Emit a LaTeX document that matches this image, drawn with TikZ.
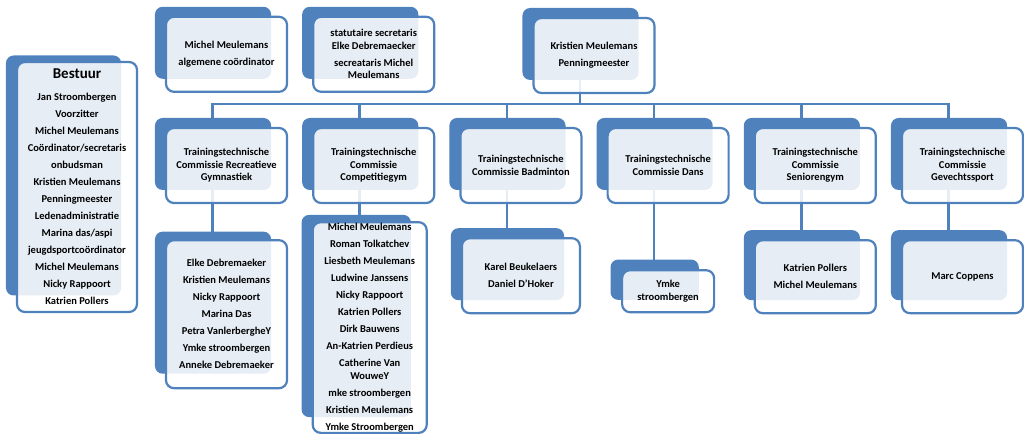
\documentclass[tikz,border=0pt]{standalone}
\usepackage{fontspec}
\setmainfont{Carlito}
\usepackage{tikz}
\usetikzlibrary{positioning,shadows,backgrounds}
\definecolor{orgblue}{RGB}{79,129,189}
\newcommand{\lgap}{\\[4.5pt]}
\tikzset{%
orgbox/.style={draw=orgblue, line width=2.2pt, rounded corners=8pt, fill=white, fill opacity=.86, text opacity=1,
	align=center, inner sep=2pt, font=\fontsize{10.5}{12.5}\selectfont\bfseries,
	minimum width=121pt, minimum height=75pt,
	general shadow={fill=orgblue, fill opacity=1, shadow xshift=-14pt, shadow yshift=12pt, shadow scale=.96}},
link/.style={draw=orgblue, line width=2.6pt}
}

\begin{document}
\begin{tikzpicture}[x=1pt,y=-1pt,node distance=24pt]
	\useasboundingbox (0,0) rectangle (1024,436);
	% bestuur
	\node[orgbox, minimum width=120pt, minimum height=250pt] (bestuur) at (77,187) {{\fontsize{15}{18}\selectfont Bestuur}\\[9.5pt]
		Jan Stroombergen\lgap Voorzitter\lgap Michel Meulemans\lgap Coördinator/secretaris\lgap onbudsman\lgap
		Kristien Meulemans\lgap Penningmeester\lgap Ledenadministratie\lgap Marina das/aspi\lgap
		jeugdsportcoördinator\lgap Michel Meulemans\lgap Nicky Rappoort\lgap Katrien Pollers};
	% commissies
	\node[orgbox] (rec) at (226.5,165.5) {Trainingstechnische\\Commissie Recreatieve\\Gymnastiek};
	\node[orgbox, right=of rec] (comp) {Trainingstechnische\\Commissie\\Competitiegym};
	\node[orgbox, right=of comp] (bad) {Trainingstechnische\\Commissie Badminton};
	\node[orgbox, right=of bad] (dans) {Trainingstechnische\\Commissie Dans};
	\node[orgbox, right=of dans] (sen) {Trainingstechnische\\Commissie\\Seniorengym};
	\node[orgbox, right=of sen] (gev) {Trainingstechnische\\Commissie\\Gevechtssport};
	% top row
	\node[orgbox, above=34pt of rec] (alg) {Michel Meulemans\lgap algemene coördinator};
	\node[orgbox, above=34pt of comp] (stat) {statutaire secretaris\\Elke Debremaecker\lgap secreataris Michel\\Meulemans};
	\node[orgbox] (kris) at (594,55.5) {Kristien Meulemans\lgap Penningmeester};
	% leden
	\node[orgbox, minimum height=148pt, below=35pt of rec] (recm) {Elke Debremaeker\lgap Kristien Meulemans\lgap
		Nicky Rappoort\lgap Marina Das\lgap Petra VanlerbergheY\lgap Ymke stroombergen\lgap Anneke Debremaeker};
	\node[orgbox, minimum width=114pt, inner ysep=1pt, below=17pt of comp, xshift=-4pt] (compm) {Michel Meulemans\lgap
		Roman Tolkatchev\lgap Liesbeth Meulemans\lgap Ludwine Janssens\lgap Nicky Rappoort\lgap Katrien Pollers\lgap
		Dirk Bauwens\lgap An-Katrien Perdieus\lgap Catherine Van\\WouweY\lgap mke stroombergen\lgap
		Kristien Meulemans\lgap Ymke Stroombergen};
	\node[orgbox, minimum width=118pt, below=33pt of bad] (badm) {Karel Beukelaers\lgap Daniel D'Hoker};
	\node[orgbox, minimum width=92pt, minimum height=42pt, below=65pt of dans] (dansm) {Ymke\\stroombergen};
	\node[orgbox, minimum height=73pt, below=35pt of sen] (senm) {Katrien Pollers\lgap Michel Meulemans};
	\node[orgbox, minimum height=73pt, below=35pt of gev] (gevm) {Marc Coppens};
	% verbindingen
	\coordinate (bar) at (0,104);
	\begin{scope}[on background layer]
		\foreach \c in {rec,comp,bad,dans,sen,gev}
			\draw[link] ([xshift=-14pt]kris.center) |- ([xshift=-14pt]\c.north |- bar) -- ([xshift=-14pt]\c.center);
		\foreach \c/\m in {rec/recm,comp/compm,bad/badm,dans/dansm,sen/senm,gev/gevm}
			\draw[link] ([xshift=-14pt]\c.center) -- ([xshift=-14pt]\c.center |- \m.center);
	\end{scope}
\end{tikzpicture}
\end{document}
